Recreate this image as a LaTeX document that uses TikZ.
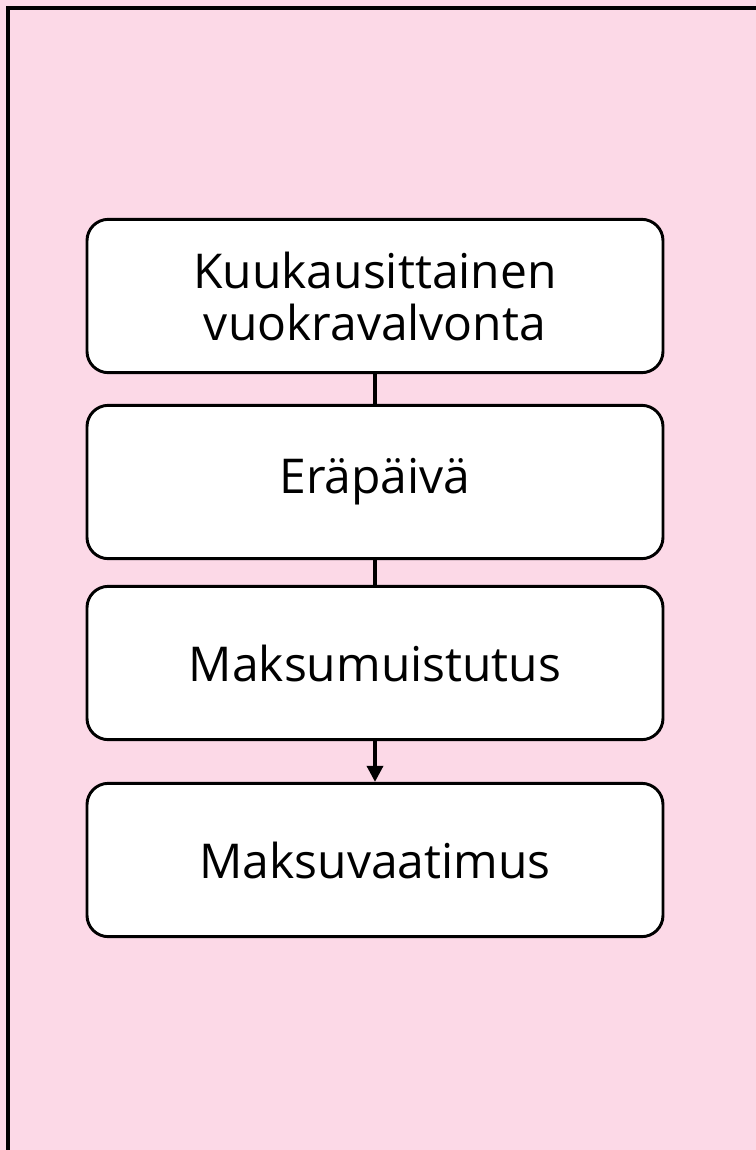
\documentclass[tikz,border=0pt]{standalone}
\usepackage{fontspec}
\setmainfont{Open Sans}
\usetikzlibrary{arrows.meta}
\definecolor{bgpink}{RGB}{252,217,231}
\begin{document}
\begin{tikzpicture}[x=0.75pt, y=-0.75pt]
    % Define styles
    \tikzset{
        stagebox/.style={draw, line width=2.2pt, fill=white, rounded corners=16pt, minimum width=432pt, minimum height=115pt, align=center, font=\fontsize{36}{39}\selectfont},
        plainline/.style={draw, line width=2.6pt},
        thickarrow/.style={draw, -{Triangle[length=12pt, width=12pt]}, line width=2.6pt}
    }

    % Page and background frame
    \useasboundingbox (0,0) rectangle (756,1150);
    \clip (0,0) rectangle (756,1150);
    \fill[bgpink] (0,0) rectangle (756,1150);
    \draw[line width=2.4pt] (8,8) rectangle (800,1200);

    % Stages
    \node[stagebox] (kuukausi) at (375,296) {Kuukausittainen\\vuokravalvonta};
    \node[stagebox] (erapaiva) at (375,482) {Eräpäivä};
    \node[stagebox] (muistutus) at (375,663) {Maksumuistutus};
    \node[stagebox] (vaatimus) at (375,860) {Maksuvaatimus};

    % Connectors
    \path[plainline] (kuukausi) -- (erapaiva);
    \path[plainline] (erapaiva) -- (muistutus);
    \path[thickarrow] (muistutus) -- (vaatimus);

\end{tikzpicture}
\end{document}
